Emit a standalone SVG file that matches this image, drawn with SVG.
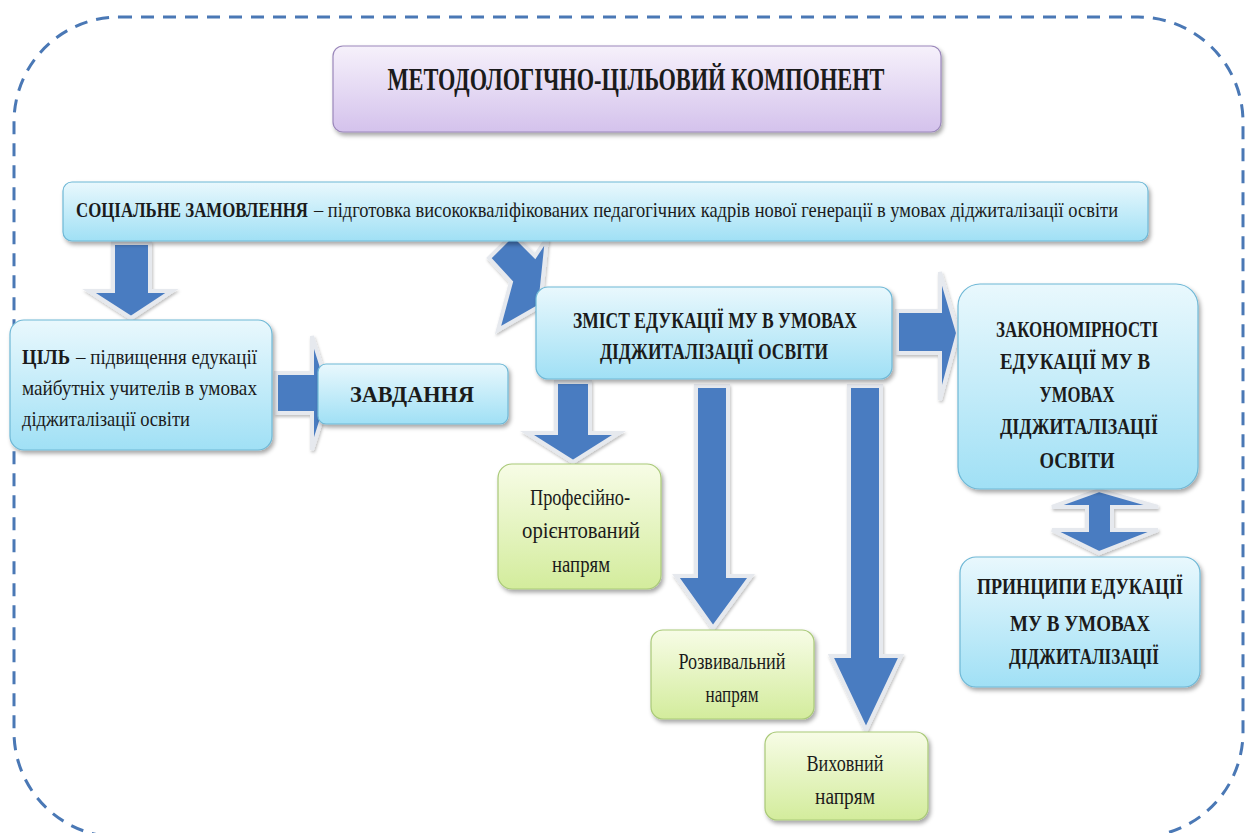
<svg xmlns="http://www.w3.org/2000/svg" width="1255" height="833" viewBox="0 0 1255 833">
<defs>
<linearGradient id="gBlue" x1="0" y1="0" x2="0" y2="1"><stop offset="0" stop-color="#e9f8fd"/><stop offset="1" stop-color="#a0e0f5"/></linearGradient>
<linearGradient id="gPurple" x1="0" y1="0" x2="0" y2="1"><stop offset="0" stop-color="#f6f1fb"/><stop offset="1" stop-color="#d4c2ec"/></linearGradient>
<linearGradient id="gGreen" x1="0" y1="0" x2="0" y2="1"><stop offset="0" stop-color="#f7fce6"/><stop offset="1" stop-color="#d3ec9c"/></linearGradient>
<filter id="sh" x="-10%" y="-10%" width="120%" height="130%"><feDropShadow dx="2" dy="3" stdDeviation="2" flood-color="#000" flood-opacity="0.35"/></filter>
<filter id="ash" x="-20%" y="-20%" width="140%" height="140%"><feDropShadow dx="1" dy="2" stdDeviation="1.5" flood-color="#000" flood-opacity="0.25"/></filter>
</defs>
<style>
.blue{fill:url(#gBlue);stroke:#6fb8d6;stroke-width:1.2;filter:url(#sh)}
.purple{fill:url(#gPurple);stroke:#9b88bb;stroke-width:1.2;filter:url(#sh)}
.green{fill:url(#gGreen);stroke:#a9c978;stroke-width:1.2;filter:url(#sh)}
.arr{fill:#4a7cc1;stroke:#e6e9ee;stroke-width:4;stroke-linejoin:miter;filter:url(#ash)}
text{font-family:"Liberation Serif","Times New Roman",serif;fill:#1b1b1b}
.t{font-size:31px;font-weight:bold}
.s{font-size:21px}
.sb{font-size:19px;font-weight:bold}
.n{font-size:21px}
.h{font-size:24px;font-weight:bold}
.g{font-size:23px}
.b{font-weight:bold}
.c{text-anchor:middle}
</style>
<rect width="1255" height="833" fill="#ffffff"/>
<rect x="14" y="17" width="1229" height="820" rx="105" ry="105" fill="none" stroke="#4a78b5" stroke-width="3" stroke-dasharray="13 9"/>

<g id="connectors">
<polygon class="arr" points="113,243 150,243 150,291 172,291 131,318 89,291 113,291"/>
<polygon class="arr" points="276,373 312,373 312,336 330,393 312,450 312,413 276,413"/>
<polygon class="arr" points="489,258 513,234 535,256 547,238 540,306 498,330 511,282"/>
<polygon class="arr" points="897,311 940,311 940,272 958,333 940,400 940,353 897,353"/>
<polygon class="arr" points="556,382 590,382 590,433 619,433 573,462 527,433 556,433"/>
<polygon class="arr" points="696,386 728,386 728,576 751,576 713,628 676,576 696,576"/>
<polygon class="arr" points="849,386 881,386 881,656 901,656 866,730 831,656 849,656"/>
<polygon class="arr" points="1087,507 1052,507 1099,490 1158,507 1112,507 1112,530 1158,530 1099,553 1052,530 1087,530"/>
</g>

<g id="title">
<rect class="purple" x="333" y="46" width="608" height="86" rx="10"/>
<text class="t c" x="636" y="90" textLength="497" lengthAdjust="spacingAndGlyphs">МЕТОДОЛОГІЧНО-ЦІЛЬОВИЙ КОМПОНЕНТ</text>
</g>

<g id="social">
<rect class="blue" x="63" y="182" width="1085" height="59" rx="9"/>
<text class="sb" x="76" y="217" textLength="232" lengthAdjust="spacingAndGlyphs" transform="translate(76 217) scale(1 1.1) translate(-76 -217)">СОЦІАЛЬНЕ ЗАМОВЛЕННЯ</text>
<text class="s" x="314" y="217" textLength="804" lengthAdjust="spacingAndGlyphs">– підготовка висококваліфікованих педагогічних кадрів нової генерації в умовах діджиталізації освіти</text>
</g>

<g id="goal">
<rect class="blue" x="10" y="320" width="262" height="130" rx="14"/>
<text class="n b" x="22" y="364" textLength="48" lengthAdjust="spacingAndGlyphs">ЦІЛЬ</text>
<text class="n" x="76" y="364" textLength="181" lengthAdjust="spacingAndGlyphs">– підвищення едукації</text>
<text class="n" x="22" y="395" textLength="235" lengthAdjust="spacingAndGlyphs">майбутніх учителів в умовах</text>
<text class="n" x="22" y="426" textLength="168" lengthAdjust="spacingAndGlyphs">діджиталізації освіти</text>
</g>

<g id="tasks">
<rect class="blue" x="318" y="364" width="190" height="60" rx="8"/>
<text class="h c" x="412" y="402" textLength="124" lengthAdjust="spacingAndGlyphs">ЗАВДАННЯ</text>
</g>

<g id="content">
<rect class="blue" x="536" y="287" width="356" height="92" rx="12"/>
<text class="h c" x="715" y="328" textLength="284" lengthAdjust="spacingAndGlyphs">ЗМІСТ ЕДУКАЦІЇ МУ В УМОВАХ</text>
<text class="h c" x="714" y="359" textLength="228" lengthAdjust="spacingAndGlyphs">ДІДЖИТАЛІЗАЦІЇ ОСВІТИ</text>
</g>

<g id="laws">
<rect class="blue" x="958" y="284" width="240" height="205" rx="22"/>
<text class="h c" x="1077" y="337" textLength="162" lengthAdjust="spacingAndGlyphs">ЗАКОНОМІРНОСТІ</text>
<text class="h c" x="1075" y="369" textLength="150" lengthAdjust="spacingAndGlyphs">ЕДУКАЦІЇ МУ В</text>
<text class="h c" x="1077" y="402" textLength="75" lengthAdjust="spacingAndGlyphs">УМОВАХ</text>
<text class="h c" x="1079" y="434" textLength="158" lengthAdjust="spacingAndGlyphs">ДІДЖИТАЛІЗАЦІЇ</text>
<text class="h c" x="1077" y="468" textLength="75" lengthAdjust="spacingAndGlyphs">ОСВІТИ</text>
</g>

<g id="principles">
<rect class="blue" x="960" y="557" width="240" height="130" rx="16"/>
<text class="h c" x="1080" y="594" textLength="206" lengthAdjust="spacingAndGlyphs">ПРИНЦИПИ ЕДУКАЦІЇ</text>
<text class="h c" x="1080" y="631" textLength="140" lengthAdjust="spacingAndGlyphs">МУ В УМОВАХ</text>
<text class="h c" x="1084" y="664" textLength="150" lengthAdjust="spacingAndGlyphs">ДІДЖИТАЛІЗАЦІЇ</text>
</g>

<g id="prof">
<rect class="green" x="498" y="464" width="163" height="125" rx="14"/>
<text class="g c" x="580" y="505" textLength="100" lengthAdjust="spacingAndGlyphs">Професійно-</text>
<text class="g c" x="581" y="538" textLength="118" lengthAdjust="spacingAndGlyphs">орієнтований</text>
<text class="g c" x="581" y="572" textLength="58" lengthAdjust="spacingAndGlyphs">напрям</text>
</g>

<g id="dev">
<rect class="green" x="651" y="630" width="163" height="89" rx="12"/>
<text class="g c" x="732" y="669" textLength="107" lengthAdjust="spacingAndGlyphs">Розвивальний</text>
<text class="g c" x="732" y="702" textLength="53" lengthAdjust="spacingAndGlyphs">напрям</text>
</g>

<g id="edu">
<rect class="green" x="765" y="732" width="163" height="88" rx="12"/>
<text class="g c" x="845" y="771" textLength="77" lengthAdjust="spacingAndGlyphs">Виховний</text>
<text class="g c" x="845" y="804" textLength="60" lengthAdjust="spacingAndGlyphs">напрям</text>
</g>
</svg>
